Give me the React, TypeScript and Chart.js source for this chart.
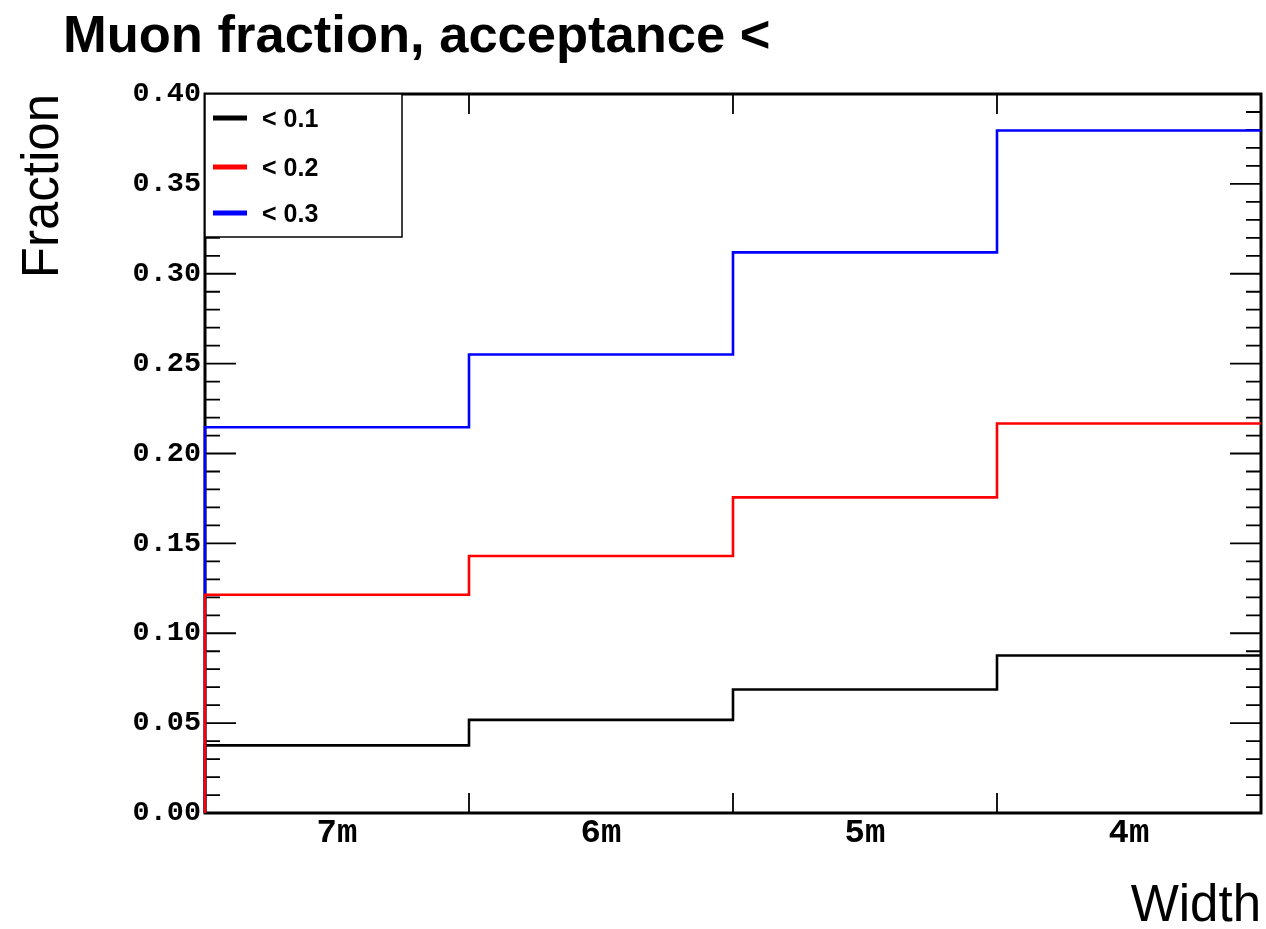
import { useEffect, useRef } from 'react';
import { Chart, registerables } from 'chart.js';

Chart.register(...registerables);

// ---- data ----
const categories = ['7m', '6m', '5m', '4m'];
const seriesLabels = ['< 0.1', '< 0.2', '< 0.3'];
const accLt01 = [0.0376, 0.0518, 0.0687, 0.0876];
const accLt02 = [0.1214, 0.143, 0.1756, 0.2167];
const accLt03 = [0.2146, 0.2551, 0.3119, 0.3797];
const seriesColors = ['#000000', '#ff0000', '#0000ff'];
const titleText = 'Muon fraction, acceptance <';
const yTitle = 'Fraction';
const xTitle = 'Width';

const stepData = (vals: number[]) => [{ x: 0, y: 0 }, ...vals.map((v, i) => ({ x: i + 1, y: v }))];

const framePlugin = {
  id: 'rootFrame',
  beforeDatasetsDraw(chart: any) {
    const { ctx, chartArea, scales } = chart;
    const { left, right, top, bottom } = chartArea;
    ctx.save();
    ctx.strokeStyle = '#000';
    ctx.lineWidth = 1.8;
    // y ticks (major every 0.05, minor every 0.01)
    for (let i = 0; i <= 40; i++) {
      const y = scales.y.getPixelForValue(i * 0.01);
      const len = i % 5 === 0 ? 31 : 15;
      ctx.beginPath();
      ctx.moveTo(left, y);
      ctx.lineTo(left + len, y);
      ctx.moveTo(right, y);
      ctx.lineTo(right - len, y);
      ctx.stroke();
    }
    // x ticks at bin edges
    for (let i = 1; i < categories.length; i++) {
      const x = scales.x.getPixelForValue(i);
      ctx.beginPath();
      ctx.moveTo(x, bottom);
      ctx.lineTo(x, bottom - 20);
      ctx.moveTo(x, top);
      ctx.lineTo(x, top + 20);
      ctx.stroke();
    }
    ctx.lineWidth = 3;
    ctx.strokeRect(left, top, right - left, bottom - top);
    ctx.restore();
  },
  afterDraw(chart: any) {
    const { ctx, chartArea } = chart;
    ctx.save();
    // title
    ctx.fillStyle = '#000';
    ctx.font = 'bold 52.5px "Liberation Sans"';
    ctx.textBaseline = 'alphabetic';
    ctx.textAlign = 'left';
    ctx.fillText(titleText, 63, 52);
    // legend
    const lx = chartArea.left;
    const ly = chartArea.top;
    ctx.fillStyle = '#fff';
    ctx.fillRect(lx, ly, 197, 143);
    ctx.strokeStyle = '#000';
    ctx.lineWidth = 1.5;
    ctx.strokeRect(lx, ly, 197, 143);
    const rows = [118, 167, 213];
    ctx.font = 'bold 25px "Liberation Sans"';
    ctx.textBaseline = 'middle';
    seriesLabels.forEach((lab, i) => {
      ctx.strokeStyle = seriesColors[i];
      ctx.lineWidth = 5;
      ctx.beginPath();
      ctx.moveTo(lx + 8, rows[i]);
      ctx.lineTo(lx + 42, rows[i]);
      ctx.stroke();
      ctx.fillStyle = '#000';
      ctx.fillText(lab, lx + 57, rows[i] + 2);
    });
    ctx.restore();
  },
};

export default function App() {
  const ref = useRef<HTMLCanvasElement | null>(null);
  useEffect(() => {
    if (!ref.current) return;
    const series = [accLt01, accLt02, accLt03];
    const orders = [2, 0, 1];
    const chart = new Chart(ref.current, {
      type: 'line',
      data: {
        datasets: series.map((vals, i) => ({
          label: seriesLabels[i],
          data: stepData(vals),
          borderColor: seriesColors[i],
          backgroundColor: seriesColors[i],
          borderWidth: 2.6,
          pointRadius: 0,
          stepped: 'after' as const,
          fill: false,
          clip: false as any,
          order: orders[i],
        })),
      },
      options: {
        responsive: false,
        animation: false,
        layout: { padding: { top: 94, right: 5, left: 0, bottom: 0 } },
        plugins: { legend: { display: false }, tooltip: { enabled: false }, title: { display: false } },
        scales: {
          x: {
            type: 'linear',
            min: 0,
            max: categories.length,
            afterBuildTicks: (s: any) => {
              s.ticks = categories.map((_, i) => ({ value: i + 0.5 }));
            },
            afterFit: (s: any) => {
              s.height = 116;
            },
            ticks: {
              autoSkip: false,
              maxRotation: 0,
              minRotation: 0,
              padding: 0,
              color: '#000',
              font: { family: '"Liberation Mono"', weight: 'bold', size: 34 },
              callback: (v: any) => categories[Math.floor(Number(v))],
            },
            grid: { display: false, drawTicks: false },
            border: { display: false },
            title: {
              display: true,
              text: xTitle,
              align: 'end',
              color: '#000',
              font: { family: '"Liberation Sans"', size: 51, lineHeight: 0.86 },
              padding: 0,
            },
          },
          y: {
            type: 'linear',
            min: 0,
            max: 0.4,
            afterFit: (s: any) => {
              s.width = 205;
            },
            ticks: {
              stepSize: 0.05,
              padding: 4,
              color: '#000',
              font: { family: '"Liberation Mono"', weight: 'bold', size: 28.5 },
              callback: (v: any) => Number(v).toFixed(2),
            },
            grid: { display: false, drawTicks: false },
            border: { display: false },
            title: {
              display: true,
              text: yTitle,
              align: 'end',
              color: '#000',
              font: { family: '"Liberation Sans"', size: 51, lineHeight: 1 },
              padding: { top: 18, bottom: 0 },
            },
          },
        },
      },
      plugins: [framePlugin],
    });
    return () => chart.destroy();
  }, []);
  return (
    <div style={{ position: 'fixed', left: 0, top: 0, width: 1266, height: 929, background: '#fff' }}>
      <canvas ref={ref} width={1266} height={929} style={{ display: 'block' }} />
    </div>
  );
}
